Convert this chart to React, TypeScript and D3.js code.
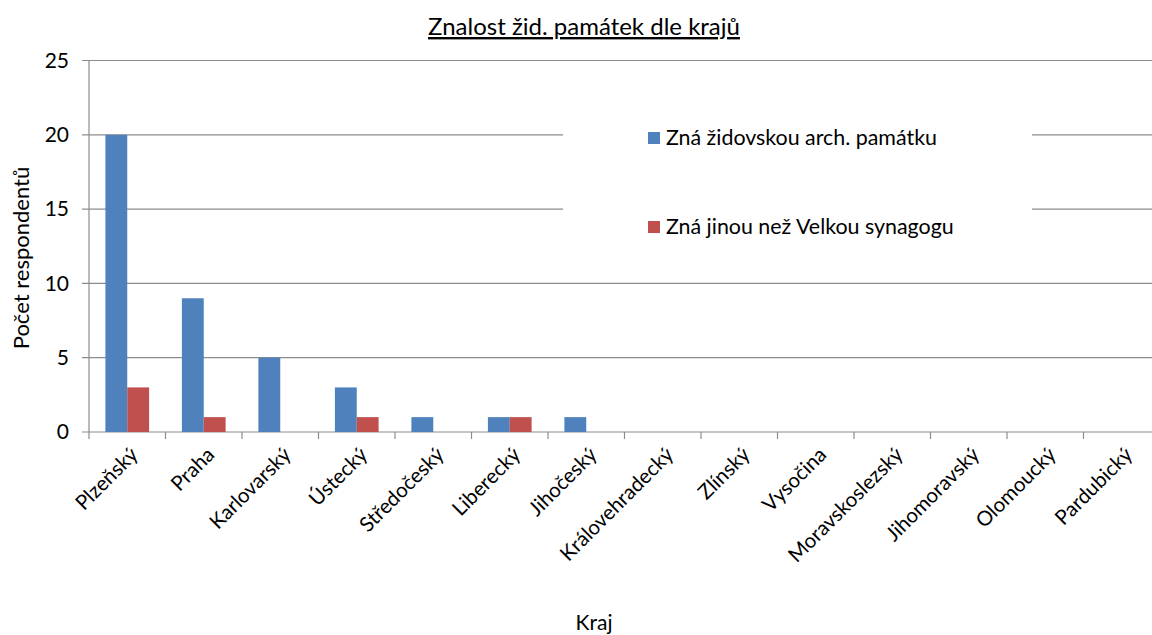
import React, { useRef, useEffect } from "react";
import * as d3 from "d3";

const regions = [
  "Plzeňský", "Praha", "Karlovarský", "Ústecký", "Středočeský", "Liberecký", "Jihočeský",
  "Královehradecký", "Zlínský", "Vysočina", "Moravskoslezský", "Jihomoravský", "Olomoucký", "Pardubický",
];
const knowsMonument = [20, 9, 5, 3, 1, 1, 1, 0, 0, 0, 0, 0, 0, 0];
const knowsOther = [3, 1, 0, 1, 0, 1, 0, 0, 0, 0, 0, 0, 0, 0];
const seriesNames = ["Zná židovskou arch. památku", "Zná jinou než Velkou synagogu"];
const seriesColors = ["#4F81BD", "#C0504D"];
const yTicks = [0, 5, 10, 15, 20, 25];

const FONT = "Lato, 'Open Sans', sans-serif";

const App = () => {
  const ref = useRef<SVGSVGElement>(null);

  useEffect(() => {
    const svg = d3.select(ref.current);
    svg.selectAll("*").remove();

    const width = 1152;
    const height = 635;
    const margin = { top: 60.5, left: 89, bottom: 432, right: 1160 };

    const x = d3.scaleBand().domain(regions).range([margin.left, margin.right]).paddingInner(0).paddingOuter(0);
    const x1 = d3.scaleBand().domain(["0", "1"]).range([0, x.bandwidth()]).paddingInner(0).paddingOuter(0.75);
    const y = d3.scaleLinear().domain([0, 25]).range([margin.bottom, margin.top]);

    svg.attr("width", width).attr("height", height).style("font-family", FONT);

    // gridlines
    svg
      .append("g")
      .selectAll("line")
      .data(yTicks)
      .join("line")
      .attr("x1", margin.left - 7)
      .attr("x2", width)
      .attr("y1", (d) => y(d))
      .attr("y2", (d) => y(d))
      .attr("stroke", "#8c8c8c")
      .attr("stroke-width", 1.2);

    // y axis line
    svg
      .append("line")
      .attr("x1", margin.left)
      .attr("x2", margin.left)
      .attr("y1", y(25))
      .attr("y2", y(0))
      .attr("stroke", "#8c8c8c")
      .attr("stroke-width", 1.2);

    // x ticks at category boundaries
    svg
      .append("g")
      .selectAll("line")
      .data(regions)
      .join("line")
      .attr("x1", (d) => x(d))
      .attr("x2", (d) => x(d))
      .attr("y1", y(0))
      .attr("y2", y(0) + 7)
      .attr("stroke", "#8c8c8c")
      .attr("stroke-width", 1.2);

    // bars
    const series = [knowsMonument, knowsOther];
    series.forEach((vals, si) => {
      svg
        .append("g")
        .selectAll("rect")
        .data(vals)
        .join("rect")
        .attr("x", (d, i) => x(regions[i]) + x1(String(si)))
        .attr("y", (d) => y(d))
        .attr("width", x1.bandwidth())
        .attr("height", (d) => y(0) - y(d))
        .attr("fill", seriesColors[si]);
    });

    // y tick labels
    svg
      .append("g")
      .selectAll("text")
      .data(yTicks)
      .join("text")
      .attr("x", 69)
      .attr("y", (d) => y(d))
      .attr("dy", "0.35em")
      .attr("text-anchor", "end")
      .attr("font-size", 21)
      .attr("fill", "#000")
      .text((d) => d);

    // x tick labels
    svg
      .append("g")
      .selectAll("text")
      .data(regions)
      .join("text")
      .attr("transform", (d) => `translate(${x(d) + x.bandwidth() / 2 + 12},${y(0) + 24}) rotate(-45)`)
      .attr("text-anchor", "end")
      .attr("font-size", 20.5)
      .attr("fill", "#000")
      .text((d) => d);

    // legend
    const legend = svg.append("g");
    legend
      .append("rect")
      .attr("x", 563)
      .attr("y", 100)
      .attr("width", 469)
      .attr("height", 160)
      .attr("fill", "#fff");
    const ly = [138, 227];
    seriesNames.forEach((name, i) => {
      legend
        .append("rect")
        .attr("x", 648)
        .attr("y", ly[i] - 6)
        .attr("width", 12)
        .attr("height", 12)
        .attr("fill", seriesColors[i]);
      legend
        .append("text")
        .attr("x", 666)
        .attr("y", ly[i])
        .attr("dy", "0.35em")
        .attr("font-size", 21.4)
        .attr("fill", "#000")
        .text(name);
    });

    // title
    svg
      .append("text")
      .attr("x", 584)
      .attr("y", 35)
      .attr("text-anchor", "middle")
      .attr("font-size", 24)
      .attr("text-decoration", "underline")
      .attr("fill", "#000")
      .text("Znalost žid. památek dle krajů");

    // axis titles
    svg
      .append("text")
      .attr("transform", `translate(29,258) rotate(-90)`)
      .attr("text-anchor", "middle")
      .attr("font-size", 22)
      .attr("fill", "#000")
      .text("Počet respondentů");

    svg
      .append("text")
      .attr("x", 594)
      .attr("y", 630)
      .attr("text-anchor", "middle")
      .attr("font-size", 21)
      .attr("fill", "#000")
      .text("Kraj");
  }, []);

  return <svg ref={ref} style={{ position: "absolute", left: 0, top: 0 }}></svg>;
};

export default App;
